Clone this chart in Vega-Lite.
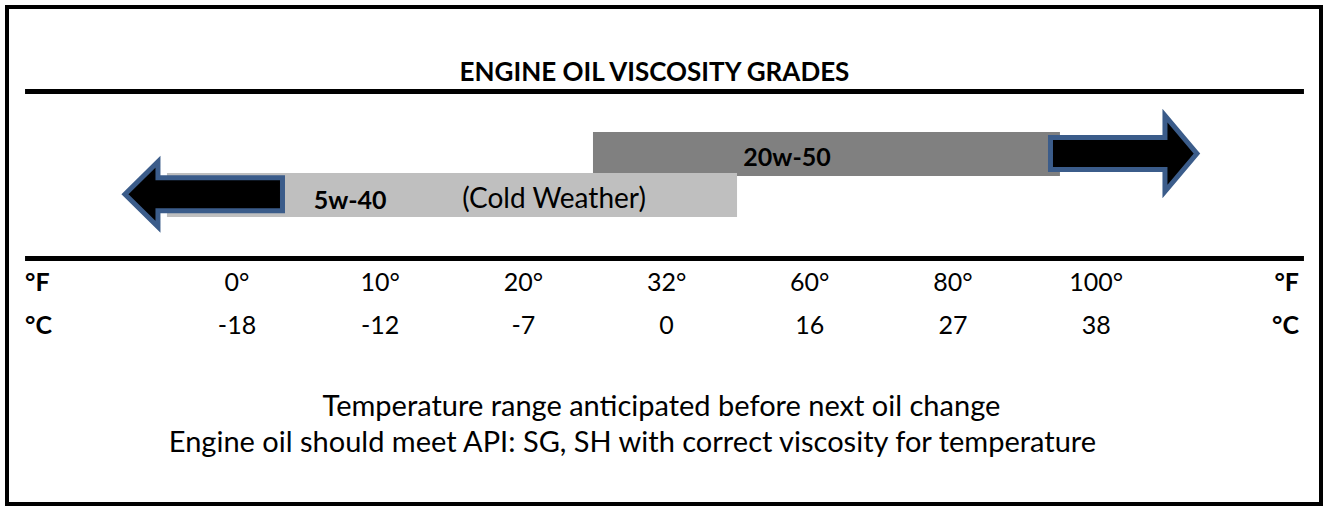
{
  "$schema": "https://vega.github.io/schema/vega-lite/v6.json",
  "width": 1323,
  "height": 506,
  "autosize": {"type": "fit", "contains": "padding"},
  "padding": {"left": 7, "top": 7, "right": 2, "bottom": 2},
  "background": "white",
  "config": {"view": {"stroke": "black", "strokeWidth": 4}, "text": {"font": "Lato"}},
  "datasets": {
    "bars": [
      {"grade": "20w-50", "from": 2.486, "to": 5.747, "top": 25.15, "bottom": 34.0},
      {"grade": "5w-40", "from": -0.489, "to": 3.492, "top": 33.4, "bottom": 42.25}
    ],
    "rules": [
      {"from": -1.48, "to": 7.451, "y": 17.0},
      {"from": -1.48, "to": 7.451, "y": 50.6}
    ],
    "ticks": [
      {"slot": 0, "f": "0°", "c": "-18"},
      {"slot": 1, "f": "10°", "c": "-12"},
      {"slot": 2, "f": "20°", "c": "-7"},
      {"slot": 3, "f": "32°", "c": "0"},
      {"slot": 4, "f": "60°", "c": "16"},
      {"slot": 5, "f": "80°", "c": "27"},
      {"slot": 6, "f": "100°", "c": "38"}
    ],
    "unitsLeft": [
      {"x": -1.48, "y": 57.14, "label": "°F"},
      {"x": -1.48, "y": 65.79, "label": "°C"}
    ],
    "unitsRight": [
      {"x": 7.416, "y": 57.14, "label": "°F"},
      {"x": 7.416, "y": 65.79, "label": "°C"}
    ],
    "boldLabels": [
      {"x": 3.841, "y": 31.99, "label": "20w-50"},
      {"x": 0.79, "y": 40.64, "label": "5w-40"}
    ],
    "plainLabels": [
      {"x": 2.214, "y": 40.44, "label": "(Cold Weather)"}
    ],
    "notes": [
      {"x": 2.964, "y": 82.29, "label": "Temperature range anticipated before next oil change"},
      {"x": 2.762, "y": 89.54, "label": "Engine oil should meet API: SG, SH with correct viscosity for temperature"}
    ],
    "title": [
      {"x": 2.9155, "y": 14.89, "label": "ENGINE OIL VISCOSITY GRADES"}
    ],
    "arrowLeft": [{"x": -0.2322, "y": 37.68}],
    "arrowRight": [{"x": 6.1924, "y": 29.48}]
  },
  "layer": [
    {
      "data": {"name": "bars"},
      "mark": {"type": "rect"},
      "encoding": {
        "x": {"field": "from", "type": "quantitative", "scale": {"domain": [-1.606, 7.57], "nice": false, "zero": false}, "axis": null},
        "x2": {"field": "to"},
        "y": {"field": "top", "type": "quantitative", "scale": {"domain": [0, 100], "reverse": true, "nice": false, "zero": false}, "axis": null},
        "y2": {"field": "bottom"},
        "color": {"field": "grade", "type": "nominal", "scale": {"domain": ["20w-50", "5w-40"], "range": ["#808080", "#BFBFBF"]}, "legend": null}
      }
    },
    {
      "data": {"name": "rules"},
      "mark": {"type": "rule", "color": "black", "strokeWidth": 5},
      "encoding": {
        "x": {"field": "from", "type": "quantitative"},
        "x2": {"field": "to"},
        "y": {"field": "y", "type": "quantitative"}
      }
    },
    {
      "data": {"name": "arrowLeft"},
      "mark": {"type": "point", "shape": "M -1.969 0 L -1.144 -0.8125 L -1.144 -0.4125 L 1.969 -0.4125 L 1.969 0.4125 L -1.144 0.4125 L -1.144 0.8125 Z", "size": 6400, "filled": true, "fill": "black", "stroke": "#3B5C8A", "strokeWidth": 5, "opacity": 1, "strokeOpacity": 1, "fillOpacity": 1},
      "encoding": {
        "x": {"field": "x", "type": "quantitative"},
        "y": {"field": "y", "type": "quantitative"}
      }
    },
    {
      "data": {"name": "arrowRight"},
      "mark": {"type": "point", "shape": "M 1.831 0 L 1.031 -0.95 L 1.031 -0.4 L -1.831 -0.4 L -1.831 0.4 L 1.031 0.4 L 1.031 0.95 Z", "size": 6400, "filled": true, "fill": "black", "stroke": "#3B5C8A", "strokeWidth": 5, "opacity": 1, "strokeOpacity": 1, "fillOpacity": 1},
      "encoding": {
        "x": {"field": "x", "type": "quantitative"},
        "y": {"field": "y", "type": "quantitative"}
      }
    },
    {
      "data": {"name": "title"},
      "mark": {"type": "text", "fontSize": 26, "fontWeight": "bold", "align": "center", "baseline": "alphabetic", "color": "black"},
      "encoding": {
        "x": {"field": "x", "type": "quantitative"},
        "y": {"field": "y", "type": "quantitative"},
        "text": {"field": "label"}
      }
    },
    {
      "data": {"name": "boldLabels"},
      "mark": {"type": "text", "fontSize": 25, "fontWeight": "bold", "align": "center", "baseline": "alphabetic", "color": "black"},
      "encoding": {
        "x": {"field": "x", "type": "quantitative"},
        "y": {"field": "y", "type": "quantitative"},
        "text": {"field": "label"}
      }
    },
    {
      "data": {"name": "plainLabels"},
      "mark": {"type": "text", "fontSize": 28, "align": "center", "baseline": "alphabetic", "color": "black"},
      "encoding": {
        "x": {"field": "x", "type": "quantitative"},
        "y": {"field": "y", "type": "quantitative"},
        "text": {"field": "label"}
      }
    },
    {
      "data": {"name": "ticks"},
      "mark": {"type": "text", "fontSize": 25, "align": "center", "baseline": "alphabetic", "color": "black"},
      "encoding": {
        "x": {"field": "slot", "type": "quantitative"},
        "y": {"datum": 57.14, "type": "quantitative"},
        "text": {"field": "f"}
      }
    },
    {
      "data": {"name": "ticks"},
      "mark": {"type": "text", "fontSize": 25, "align": "center", "baseline": "alphabetic", "color": "black"},
      "encoding": {
        "x": {"field": "slot", "type": "quantitative"},
        "y": {"datum": 65.79, "type": "quantitative"},
        "text": {"field": "c"}
      }
    },
    {
      "data": {"name": "unitsLeft"},
      "mark": {"type": "text", "fontSize": 25, "fontWeight": "bold", "align": "left", "baseline": "alphabetic", "color": "black"},
      "encoding": {
        "x": {"field": "x", "type": "quantitative"},
        "y": {"field": "y", "type": "quantitative"},
        "text": {"field": "label"}
      }
    },
    {
      "data": {"name": "unitsRight"},
      "mark": {"type": "text", "fontSize": 25, "fontWeight": "bold", "align": "right", "baseline": "alphabetic", "color": "black"},
      "encoding": {
        "x": {"field": "x", "type": "quantitative"},
        "y": {"field": "y", "type": "quantitative"},
        "text": {"field": "label"}
      }
    },
    {
      "data": {"name": "notes"},
      "mark": {"type": "text", "fontSize": 29, "align": "center", "baseline": "alphabetic", "color": "black"},
      "encoding": {
        "x": {"field": "x", "type": "quantitative"},
        "y": {"field": "y", "type": "quantitative"},
        "text": {"field": "label"}
      }
    }
  ]
}
